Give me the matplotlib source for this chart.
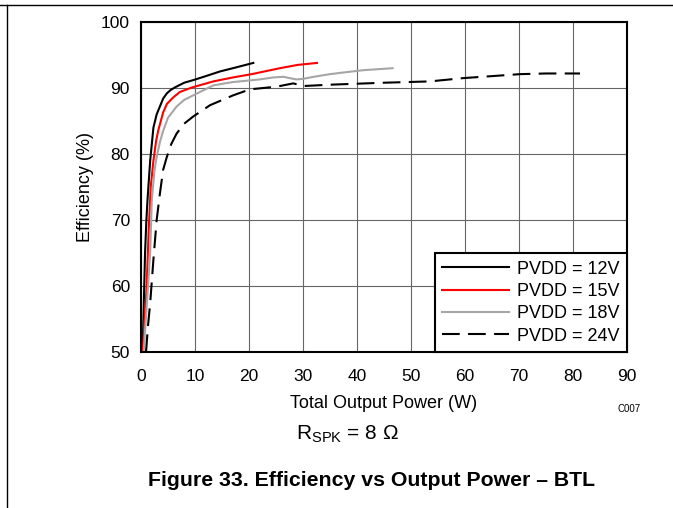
import matplotlib
matplotlib.use("Agg")
import matplotlib.pyplot as plt
from matplotlib.lines import Line2D

plt.rcParams['font.family'] = ['Liberation Sans', 'DejaVu Sans']
plt.rcParams['mathtext.fontset'] = 'custom'
plt.rcParams['mathtext.rm'] = 'Liberation Sans'
plt.rcParams['mathtext.it'] = 'Liberation Sans:italic'
plt.rcParams['mathtext.bf'] = 'Liberation Sans:bold'

# ---- data ----
p12 = [0.3, 0.45, 0.75, 1.0, 1.2, 1.7, 2.3, 2.9, 3.5, 4.1, 4.8, 5.5, 6.3, 8.0, 9.7, 12.0, 14.6, 17.5, 20.8]
e12 = [50, 55, 65, 70, 73, 79, 84, 86.0, 87.2, 88.4, 89.2, 89.7, 90.1, 90.8, 91.2, 91.8, 92.5, 93.1, 93.8]

p15 = [0.35, 0.6, 1.05, 1.4, 1.8, 2.3, 2.8, 3.2, 4.1, 4.8, 6.0, 7.2, 9.5, 13.4, 17.0, 20.5, 25.7, 29.0, 32.6]
e15 = [50, 54, 60, 68, 75, 79, 82.0, 83.6, 86.3, 87.6, 88.6, 89.4, 90.1, 91.0, 91.6, 92.1, 93.0, 93.5, 93.8]

p18 = [0.5, 0.9, 1.7, 2.0, 2.5, 2.9, 3.5, 4.1, 5.0, 6.6, 8.0, 9.7, 13.4, 17.0, 22.0, 24.5, 26.4, 27.5, 28.8,
       30.1, 32.0, 35.0, 38.0, 41.2, 46.6]
e18 = [50, 55, 65, 73, 77.5, 79.5, 81.8, 83.5, 85.5, 87.2, 88.2, 88.9, 90.4, 90.9, 91.3, 91.6, 91.7, 91.5, 91.3,
       91.4, 91.7, 92.1, 92.4, 92.7, 93.0]

p24 = [0.93, 1.3, 1.7, 2.3, 2.9, 3.5, 4.1, 4.8, 5.6, 6.6, 8.0, 9.7, 12.8, 17.1, 20.2, 25.1, 28.2, 30.1, 35.0,
       45.0, 53.5, 59.7, 65.0, 70.2, 75.0, 81.3]
e24 = [50, 54, 57.4, 64, 70, 74, 77.6, 79.6, 81.5, 83.1, 84.6, 85.7, 87.4, 88.9, 89.8, 90.2, 90.7, 90.3, 90.5,
       90.8, 91.0, 91.5, 91.8, 92.1, 92.2, 92.2]

labels = ['PVDD = 12V', 'PVDD = 15V', 'PVDD = 18V', 'PVDD = 24V']
xticks = [0, 10, 20, 30, 40, 50, 60, 70, 80, 90]
yticks = [50, 60, 70, 80, 90, 100]

W, H = 673, 508
fig = plt.figure(figsize=(W / 100, H / 100), dpi=100)
ax = fig.add_axes([141 / W, 1 - 352 / H, (627 - 141) / W, (352 - 22) / H])

ax.plot(p12, e12, color='black', lw=1.5, label=labels[0])
ax.plot(p15, e15, color='#ff0000', lw=1.5, label=labels[1])
ax.plot(p18, e18, color='#a6a6a6', lw=1.5, label=labels[2])
ax.plot(p24, e24, color='black', lw=1.5, dashes=(8.5, 4), label=labels[3])

ax.set_xlim(0, 90)
ax.set_ylim(50, 100)
ax.set_xticks(xticks)
ax.set_yticks(yticks)
ax.grid(True, color='#666666', lw=0.8)
ax.set_axisbelow(True)
for s in ax.spines.values():
    s.set_linewidth(1.5)
    s.set_color('black')
ax.tick_params(axis='both', length=0, labelsize=12.5)
ax.tick_params(axis='x', pad=12)
ax.tick_params(axis='y', pad=8)

ax.set_xlabel('Total Output Power (W)', fontsize=13)
ax.xaxis.set_label_coords(0.5, (352 - 403) / 330)
ax.xaxis.label.set_va('center')
ax.set_ylabel('Efficiency (%)', fontsize=13)
ax.yaxis.set_label_coords((85 - 141) / 486, 0.5)
ax.yaxis.label.set_va('center')

leg = ax.legend(loc='lower right', bbox_to_anchor=(1, 0), borderaxespad=0, fontsize=13,
                handlelength=3.7, handletextpad=0.45, labelspacing=0.3, borderpad=0.4,
                fancybox=False, edgecolor='black', framealpha=1)
leg.get_frame().set_linewidth(1.5)

fig.text(618 / W, 1 - 409 / H, 'C007', fontsize=7, va='center', ha='left')
fig.text(348 / W, 1 - 440 / H, r'$\mathrm{R_{SPK}}$ = 8 Ω', fontsize=15, ha='center', va='baseline')
fig.text(371.7 / W, 1 - 480 / H, 'Figure 33. Efficiency vs Output Power – BTL', fontsize=15.3,
         fontweight='bold', ha='center', va='center')

# page border lines
fig.add_artist(Line2D([0, 1], [1 - 5 / H, 1 - 5 / H], transform=fig.transFigure, color='black', lw=1))
fig.add_artist(Line2D([7 / W, 7 / W], [0, 1 - 5 / H], transform=fig.transFigure, color='black', lw=1))

fig.savefig('out.png', dpi=100)
